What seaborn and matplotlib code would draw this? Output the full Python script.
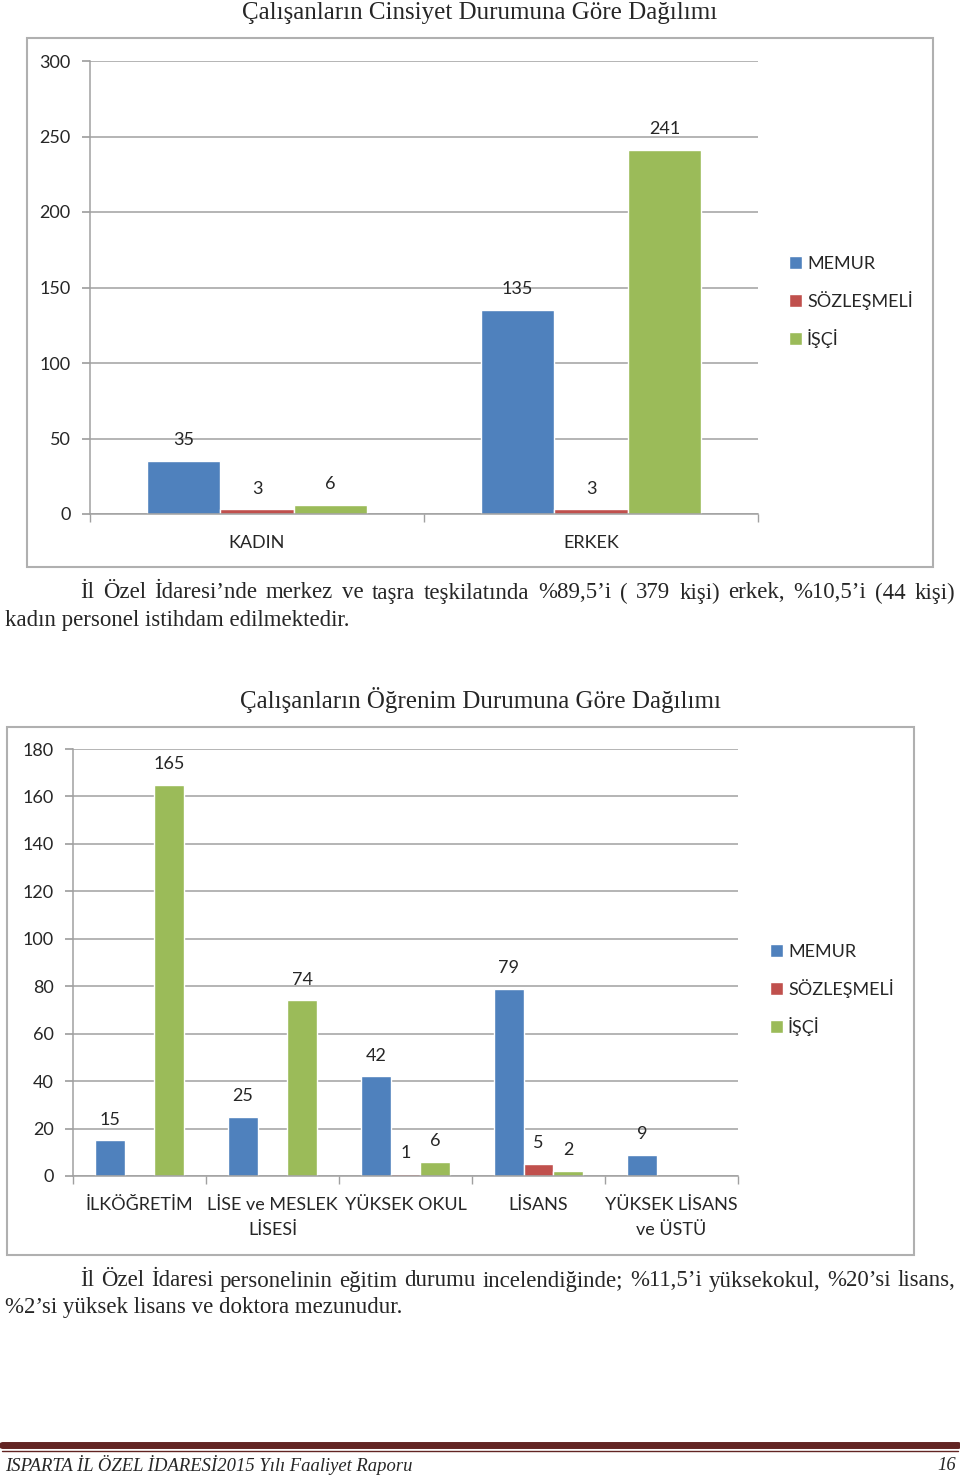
import pandas as pd
import seaborn as sns
import matplotlib.pyplot as plt
from matplotlib.patches import Rectangle, Patch
from matplotlib.lines import Line2D

sns.set_theme(style="white")
plt.rcParams['font.family'] = ['Lato', 'DejaVu Sans']

# data
series = ['MEMUR', 'SÖZLEŞMELİ', 'İŞÇİ']
colors = ['#4F81BD', '#C0504D', '#9BBB59']

gender_cats = ['KADIN', 'ERKEK']
gender_memur = [35, 135]
gender_sozlesmeli = [3, 3]
gender_isci = [6, 241]

edu_cats = ['İLKÖĞRETİM', 'LİSE ve MESLEK\nLİSESİ', 'YÜKSEK OKUL', 'LİSANS', 'YÜKSEK LİSANS\nve ÜSTÜ']
edu_memur = [15, 25, 42, 79, 9]
edu_sozlesmeli = [None, None, 1, 5, None]
edu_isci = [165, 74, 6, 2, None]

title1 = 'Çalışanların Cinsiyet Durumuna Göre Dağılımı'
title2 = 'Çalışanların Öğrenim Durumuna Göre Dağılımı'
para1 = ["İl Özel İdaresi’nde merkez ve taşra teşkilatında %89,5’i ( 379 kişi) erkek, %10,5’i (44 kişi)",
         "kadın personel istihdam edilmektedir."]
para2 = ["İl Özel İdaresi personelinin eğitim durumu incelendiğinde; %11,5’i yüksekokul, %20’si lisans,",
         "%2’si yüksek lisans ve doktora mezunudur."]
footer = 'ISPARTA İL ÖZEL İDARESİ2015 Yılı Faaliyet Raporu'
page_no = '16'

W, H = 960, 1479
fig = plt.figure(figsize=(W / 100, H / 100), dpi=100)
fig.patch.set_facecolor('white')


def fx(px):
    return px / W


def fy(py):
    return 1 - py / H


def long_df(cats, memur, soz, isci):
    rows = []
    for name, vals in zip(series, [memur, soz, isci]):
        for c, v in zip(cats, vals):
            if v is not None:
                rows.append({'cat': c, 'seri': name, 'value': v})
    return pd.DataFrame(rows)


def draw_chart(box, axpos, cats, memur, soz, isci, ymax, ystep, width, legend_xy):
    # outer chart frame
    fig.add_artist(Rectangle((fx(box[0]), fy(box[3])), fx(box[2] - box[0]), (box[3] - box[1]) / H,
                             transform=fig.transFigure, fill=False, edgecolor='#b0b0b0', lw=1.5))
    ax = fig.add_axes([fx(axpos[0]), fy(axpos[3]), fx(axpos[2] - axpos[0]), (axpos[3] - axpos[1]) / H])
    df = long_df(cats, memur, soz, isci)
    sns.barplot(data=df, x='cat', y='value', hue='seri', order=cats, hue_order=series,
                palette=colors, width=width, ax=ax, legend=False, saturation=1)
    ax.set_xlim(-0.5, len(cats) - 0.5)
    ax.set_ylim(0, ymax)
    ax.set_yticks(range(0, ymax + 1, ystep))
    ax.yaxis.grid(True, color='#a0a0a0', lw=1.1)
    ax.set_axisbelow(True)
    ax.set_xlabel('')
    ax.set_ylabel('')
    for s in ['top', 'right']:
        ax.spines[s].set_visible(False)
    for s in ['left', 'bottom']:
        ax.spines[s].set_color('#a0a0a0')
        ax.spines[s].set_linewidth(1.1)
    ax.tick_params(axis='y', left=True, length=6, color='#a0a0a0', labelsize=13, pad=8)
    ax.tick_params(axis='x', bottom=False, labelsize=13, pad=9)
    ax.set_xticks(range(len(cats)))
    ax.set_xticklabels(cats, linespacing=1.7)
    ax.set_xticks([i - 0.5 for i in range(len(cats) + 1)], minor=True)
    ax.tick_params(axis='x', which='minor', bottom=True, length=6, color='#a0a0a0')
    # data labels
    for cont, vals in zip(ax.containers, [memur, soz, isci]):
        present = [v for v in vals if v is not None]
        for bar, v in zip(cont, present):
            ax.annotate(str(v), (bar.get_x() + bar.get_width() / 2, bar.get_height()),
                        xytext=(0, 15), textcoords='offset points', ha='center', va='center', fontsize=13)
    handles = [Patch(facecolor=c, label=s) for c, s in zip(colors, series)]
    fig.legend(handles=handles, loc='center left', bbox_to_anchor=(fx(legend_xy[0]), fy(legend_xy[1])),
               frameon=False, fontsize=13, handlelength=0.7, handleheight=0.7, handletextpad=0.3,
               labelspacing=1.05, borderpad=0, borderaxespad=0)
    return ax


def justified(lines, x0, x1, y0, dy, indent, size):
    renderer = fig.canvas.get_renderer()
    for i, line in enumerate(lines):
        y = fy(y0 + i * dy)
        left = x0 + (indent if i == 0 else 0)
        last = i == len(lines) - 1
        if last:
            fig.text(fx(left), y, line, family='Liberation Serif', fontsize=size, va='center')
            continue
        words = line.split(' ')
        arts = [fig.text(0, y, w, family='Liberation Serif', fontsize=size, va='center') for w in words]
        widths = [a.get_window_extent(renderer).width for a in arts]
        gap = (x1 - left - sum(widths)) / (len(words) - 1)
        pos = left
        for a, w in zip(arts, widths):
            a.set_x(fx(pos))
            pos += w + gap


fig.text(fx(480), fy(13), title1, family='Liberation Serif', fontsize=18, ha='center', va='center')
draw_chart((27, 38, 933, 567), (90, 61, 758, 514), gender_cats, gender_memur, gender_sozlesmeli,
           gender_isci, 300, 50, 0.66, (789, 302))
justified(para1, 5, 955, 593, 27, 75, 16.5)

fig.text(fx(480), fy(700), title2, family='Liberation Serif', fontsize=18, ha='center', va='center')
draw_chart((7, 727, 914, 1255), (73, 749, 738, 1176), edu_cats, edu_memur, edu_sozlesmeli,
           edu_isci, 180, 20, 0.67, (770, 990))
justified(para2, 5, 955, 1281, 27, 75, 16.5)

# footer
fig.add_artist(Line2D([fx(2), fx(958)], [fy(1444.5), fy(1444.5)], transform=fig.transFigure,
                      color='#622423', lw=5))
fig.add_artist(Line2D([fx(2), fx(958)], [fy(1451), fy(1451)], transform=fig.transFigure,
                      color='#622423', lw=1))
fig.text(fx(5), fy(1465), footer, family='Liberation Serif', style='italic', fontsize=13.4, va='center')
fig.text(fx(956), fy(1465), page_no, family='Liberation Serif', style='italic', fontsize=13.4,
         va='center', ha='right')

fig.savefig('out.png', dpi=100, facecolor='white')
